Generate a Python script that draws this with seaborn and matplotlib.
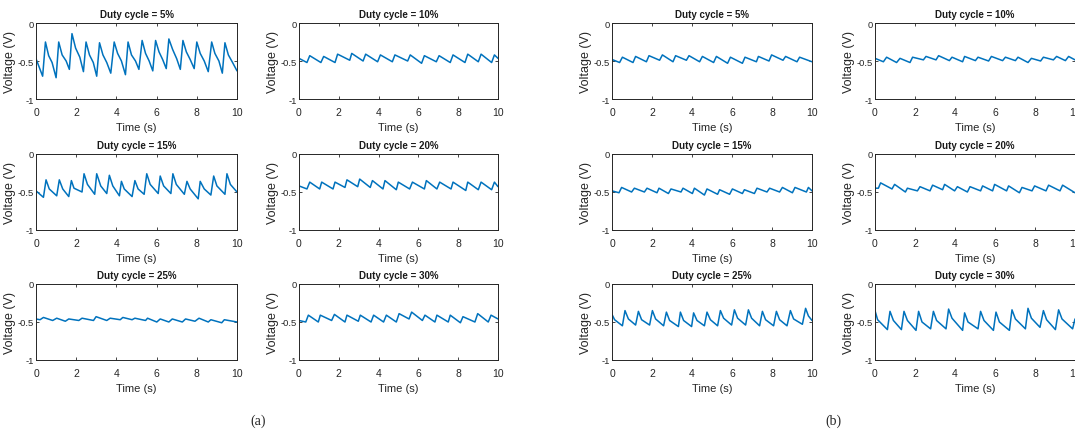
import pandas as pd
import seaborn as sns
from matplotlib import pyplot as plt

# (a) traces: vertices (time s, voltage V)
t_a5 = [0, 0.33, 0.47, 0.63, 0.80, 1.0, 1.13, 1.30, 1.50, 1.66, 1.79, 1.97, 2.18, 2.36, 2.49, 2.66, 2.85, 3.02,
        3.16, 3.33, 3.52, 3.72, 3.89, 4.06, 4.25, 4.45, 4.58, 4.75, 4.95, 5.12, 5.28, 5.45, 5.63, 5.81, 5.95, 6.12,
        6.30, 6.48, 6.61, 6.80, 7.0, 7.18, 7.31, 7.48, 7.67, 7.87, 8.0, 8.17, 8.37, 8.57, 8.74, 8.90, 9.10, 9.27,
        9.40, 9.57, 9.78, 10.0]
v_a5 = [-0.47, -0.70, -0.25, -0.43, -0.52, -0.72, -0.25, -0.42, -0.50, -0.61, -0.14, -0.33, -0.45, -0.64, -0.25,
        -0.42, -0.52, -0.70, -0.26, -0.42, -0.52, -0.66, -0.25, -0.40, -0.50, -0.68, -0.25, -0.42, -0.50, -0.61,
        -0.23, -0.40, -0.50, -0.63, -0.23, -0.38, -0.48, -0.60, -0.21, -0.35, -0.47, -0.61, -0.23, -0.38, -0.48,
        -0.60, -0.25, -0.40, -0.50, -0.64, -0.25, -0.40, -0.50, -0.66, -0.26, -0.42, -0.52, -0.63]

t_a10 = [0, 0.40, 0.54, 1.10, 1.24, 1.81, 1.94, 2.55, 2.65, 3.22, 3.35, 3.95, 4.09, 4.69, 4.82, 5.46, 5.59, 6.16,
         6.30, 6.90, 7.04, 7.60, 7.74, 8.34, 8.48, 9.01, 9.15, 9.68, 9.82, 10.0]
v_a10 = [-0.465, -0.52, -0.43, -0.52, -0.44, -0.52, -0.41, -0.49, -0.40, -0.50, -0.41, -0.51, -0.42, -0.51, -0.42,
         -0.50, -0.42, -0.53, -0.43, -0.51, -0.43, -0.52, -0.42, -0.52, -0.41, -0.51, -0.41, -0.52, -0.42, -0.465]

t_a15 = [0, 0.37, 0.50, 0.66, 1.03, 1.16, 1.33, 1.63, 1.76, 1.89, 2.29, 2.39, 2.56, 2.92, 3.02, 3.22, 3.52, 3.65,
         3.82, 4.15, 4.25, 4.39, 4.78, 4.92, 5.08, 5.38, 5.51, 5.68, 6.08, 6.18, 6.35, 6.71, 6.81, 6.98, 7.38, 7.51,
         7.67, 8.07, 8.17, 8.37, 8.70, 8.84, 9.0, 9.40, 9.50, 9.67, 10.0]
v_a15 = [-0.485, -0.57, -0.34, -0.46, -0.55, -0.34, -0.46, -0.56, -0.35, -0.45, -0.50, -0.26, -0.40, -0.53, -0.26,
         -0.42, -0.52, -0.28, -0.42, -0.55, -0.36, -0.46, -0.56, -0.35, -0.46, -0.53, -0.26, -0.40, -0.52, -0.29,
         -0.42, -0.52, -0.26, -0.40, -0.53, -0.36, -0.46, -0.59, -0.36, -0.46, -0.54, -0.29, -0.42, -0.53, -0.26,
         -0.40, -0.50]

t_a20 = [0, 0.40, 0.54, 1.04, 1.14, 1.71, 1.81, 2.31, 2.41, 2.95, 3.05, 3.58, 3.69, 4.22, 4.32, 4.89, 4.99, 5.56,
         5.70, 6.30, 6.40, 6.93, 7.07, 7.64, 7.74, 8.38, 8.48, 9.01, 9.15, 9.68, 9.82, 10.0]
v_a20 = [-0.42, -0.46, -0.37, -0.46, -0.37, -0.46, -0.37, -0.44, -0.34, -0.43, -0.33, -0.44, -0.35, -0.46, -0.35,
         -0.47, -0.37, -0.46, -0.37, -0.46, -0.35, -0.46, -0.37, -0.46, -0.37, -0.48, -0.37, -0.47, -0.37, -0.47,
         -0.37, -0.43]

t_a25 = [0, 0.20, 0.37, 0.83, 1.03, 1.46, 1.63, 2.13, 2.29, 2.86, 2.99, 3.52, 3.69, 4.19, 4.32, 4.78, 4.92, 5.45,
         5.55, 6.01, 6.18, 6.61, 6.78, 7.28, 7.44, 7.91, 8.11, 8.57, 8.70, 9.24, 9.37, 10.0]
v_a25 = [-0.46, -0.47, -0.44, -0.48, -0.45, -0.49, -0.46, -0.48, -0.45, -0.48, -0.43, -0.48, -0.45, -0.47, -0.44,
         -0.47, -0.45, -0.48, -0.45, -0.50, -0.46, -0.50, -0.46, -0.50, -0.46, -0.49, -0.45, -0.50, -0.47, -0.51,
         -0.47, -0.50]

t_a30 = [0, 0.34, 0.47, 0.97, 1.07, 1.64, 1.78, 2.31, 2.41, 2.98, 3.08, 3.62, 3.75, 4.25, 4.39, 4.89, 5.03, 5.53,
         5.66, 6.20, 6.33, 6.83, 6.93, 7.50, 7.60, 8.11, 8.24, 8.84, 8.98, 9.51, 9.65, 10.0]
v_a30 = [-0.48, -0.50, -0.41, -0.50, -0.41, -0.48, -0.40, -0.50, -0.41, -0.49, -0.41, -0.50, -0.41, -0.50, -0.41,
         -0.50, -0.39, -0.46, -0.37, -0.48, -0.41, -0.50, -0.41, -0.50, -0.41, -0.51, -0.43, -0.50, -0.39, -0.50,
         -0.41, -0.46]

# (b) traces
t_b5 = [0, 0.38, 0.52, 1.05, 1.18, 1.72, 1.85, 2.38, 2.52, 3.05, 3.18, 3.72, 3.85, 4.38, 4.52, 5.08, 5.22, 5.78,
        5.92, 6.52, 6.65, 7.22, 7.32, 7.85, 7.98, 8.55, 8.68, 9.25, 9.38, 10.0]
v_b5 = [-0.48, -0.52, -0.45, -0.52, -0.44, -0.51, -0.43, -0.49, -0.42, -0.51, -0.43, -0.49, -0.43, -0.51, -0.44,
        -0.52, -0.44, -0.53, -0.45, -0.53, -0.45, -0.51, -0.44, -0.50, -0.42, -0.49, -0.44, -0.51, -0.45, -0.51]

t_b10 = [0, 0.42, 0.58, 1.08, 1.25, 1.75, 1.88, 2.42, 2.55, 3.05, 3.18, 3.72, 3.85, 4.38, 4.48, 5.02, 5.15, 5.68,
         5.82, 6.38, 6.52, 7.02, 7.15, 7.65, 7.82, 8.28, 8.42, 8.92, 9.08, 9.52, 9.68, 10.0]
v_b10 = [-0.465, -0.51, -0.45, -0.52, -0.465, -0.52, -0.45, -0.485, -0.44, -0.485, -0.43, -0.495, -0.45, -0.51,
         -0.44, -0.495, -0.45, -0.50, -0.44, -0.495, -0.45, -0.495, -0.45, -0.52, -0.465, -0.50, -0.45, -0.485,
         -0.44, -0.495, -0.44, -0.485]

t_b15 = [0, 0.35, 0.48, 0.98, 1.12, 1.62, 1.75, 2.25, 2.35, 2.82, 2.95, 3.45, 3.55, 4.02, 4.12, 4.62, 4.75, 5.28,
         5.38, 5.88, 6.02, 6.52, 6.62, 7.12, 7.25, 7.75, 7.88, 8.38, 8.52, 9.02, 9.15, 9.72, 9.82, 10.0]
v_b15 = [-0.485, -0.51, -0.44, -0.50, -0.45, -0.50, -0.45, -0.51, -0.45, -0.52, -0.46, -0.50, -0.45, -0.52, -0.45,
         -0.54, -0.46, -0.53, -0.47, -0.53, -0.46, -0.52, -0.47, -0.52, -0.45, -0.50, -0.45, -0.50, -0.44, -0.51,
         -0.44, -0.50, -0.44, -0.485]

t_b20 = [0, 0.17, 0.28, 0.85, 0.98, 1.52, 1.62, 2.12, 2.25, 2.75, 2.88, 3.38, 3.48, 3.98, 4.12, 4.62, 4.75, 5.28,
         5.38, 5.88, 5.98, 6.58, 6.68, 7.22, 7.35, 7.85, 7.98, 8.55, 8.68, 9.25, 9.38, 10.0]
v_b20 = [-0.45, -0.45, -0.38, -0.46, -0.40, -0.50, -0.45, -0.485, -0.43, -0.485, -0.41, -0.47, -0.40, -0.485,
         -0.43, -0.50, -0.43, -0.485, -0.42, -0.485, -0.40, -0.485, -0.42, -0.51, -0.44, -0.485, -0.42, -0.485,
         -0.41, -0.485, -0.41, -0.51]

t_b25 = [0, 0.13, 0.52, 0.65, 0.82, 1.18, 1.32, 1.48, 1.88, 2.02, 2.18, 2.58, 2.72, 2.88, 3.32, 3.42, 3.58, 3.98,
         4.08, 4.25, 4.62, 4.75, 4.92, 5.28, 5.42, 5.58, 5.98, 6.12, 6.28, 6.68, 6.82, 6.98, 7.38, 7.52, 7.68, 8.08,
         8.22, 8.38, 8.75, 8.92, 9.08, 9.52, 9.68, 9.82, 10.0]
v_b25 = [-0.40, -0.47, -0.55, -0.35, -0.46, -0.54, -0.36, -0.47, -0.54, -0.35, -0.46, -0.55, -0.37, -0.48, -0.56,
         -0.37, -0.48, -0.56, -0.38, -0.48, -0.55, -0.37, -0.47, -0.55, -0.35, -0.45, -0.54, -0.34, -0.45, -0.54,
         -0.34, -0.45, -0.55, -0.36, -0.47, -0.55, -0.36, -0.47, -0.55, -0.35, -0.46, -0.53, -0.32, -0.42, -0.48]

t_b30 = [0, 0.13, 0.62, 0.75, 0.92, 1.32, 1.45, 1.62, 2.05, 2.18, 2.35, 2.78, 2.92, 3.08, 3.55, 3.68, 3.85, 4.38,
         4.48, 4.65, 5.15, 5.28, 5.45, 5.92, 6.05, 6.22, 6.72, 6.85, 7.02, 7.52, 7.65, 7.82, 8.25, 8.42, 8.58, 9.02,
         9.18, 9.35, 9.88, 10.0]
v_b30 = [-0.35, -0.47, -0.60, -0.36, -0.48, -0.60, -0.36, -0.48, -0.61, -0.36, -0.50, -0.59, -0.36, -0.48, -0.59,
         -0.33, -0.45, -0.61, -0.38, -0.50, -0.59, -0.36, -0.48, -0.61, -0.37, -0.50, -0.61, -0.34, -0.46, -0.59,
         -0.32, -0.45, -0.57, -0.35, -0.47, -0.60, -0.34, -0.46, -0.59, -0.46]

titles = ['Duty cycle = 5%', 'Duty cycle = 10%', 'Duty cycle = 15%',
          'Duty cycle = 20%', 'Duty cycle = 25%', 'Duty cycle = 30%']
group_a = [(t_a5, v_a5), (t_a10, v_a10), (t_a15, v_a15), (t_a20, v_a20), (t_a25, v_a25), (t_a30, v_a30)]
group_b = [(t_b5, v_b5), (t_b10, v_b10), (t_b15, v_b15), (t_b20, v_b20), (t_b25, v_b25), (t_b30, v_b30)]
panel_labels = ['(a)', '(b)']

sns.set_style('ticks')
plt.rcParams['font.family'] = ['Liberation Sans Narrow', 'Liberation Sans', 'DejaVu Sans']

W, H = 1075, 431
fig = plt.figure(figsize=(W / 100, H / 100), dpi=100)

col_left = [[36, 299], [612, 875]]
col_w = [[201, 199], [200, 200]]
row_top = [24, 155, 285]
ax_h = 76

for g, group in enumerate([group_a, group_b]):
    for i, (t, v) in enumerate(group):
        r, c = divmod(i, 2)
        x0 = col_left[g][c]
        ax = fig.add_axes([x0 / W, 1 - (row_top[r] + ax_h) / H, col_w[g][c] / W, ax_h / H])
        df = pd.DataFrame({'Time': t, 'Voltage': v})
        sns.lineplot(data=df, x='Time', y='Voltage', ax=ax, color='#0072BD', linewidth=1.1)
        ax.set_xlim(0, 10)
        ax.set_ylim(-1, 0)
        ax.set_xticks([0, 2, 4, 6, 8, 10])
        ax.set_xticklabels(['0', '2', '4', '6', '8', '10'])
        ax.set_yticks([-1, -0.5, 0])
        ax.set_yticklabels(['-1', '-0.5', '0'])
        ax.tick_params(direction='in', length=2.5, width=0.6, top=True, right=True, colors='#262626')
        ax.tick_params(axis='x', labelsize=7.5, pad=5.5)
        ax.tick_params(axis='y', labelsize=6.8, pad=1.5)
        for s in ax.spines.values():
            s.set_linewidth(0.7)
            s.set_color('#262626')
        ax.set_xlabel('Time (s)', fontsize=8, labelpad=4, color='#262626')
        ax.set_ylabel('Voltage (V)', fontsize=9, labelpad=1, color='#262626',
                      family=['Liberation Sans', 'DejaVu Sans'])
        ax.set_title(titles[i], fontsize=7, fontweight='bold', pad=4, color='#1a1a1a')

fig.text(258 / W, 1 - 421 / H, panel_labels[0], ha='center', va='center', fontsize=10,
         family=['Liberation Serif', 'DejaVu Serif'])
fig.text(833 / W, 1 - 421 / H, panel_labels[1], ha='center', va='center', fontsize=10,
         family=['Liberation Serif', 'DejaVu Serif'])

plt.savefig('out.png', dpi=100)
